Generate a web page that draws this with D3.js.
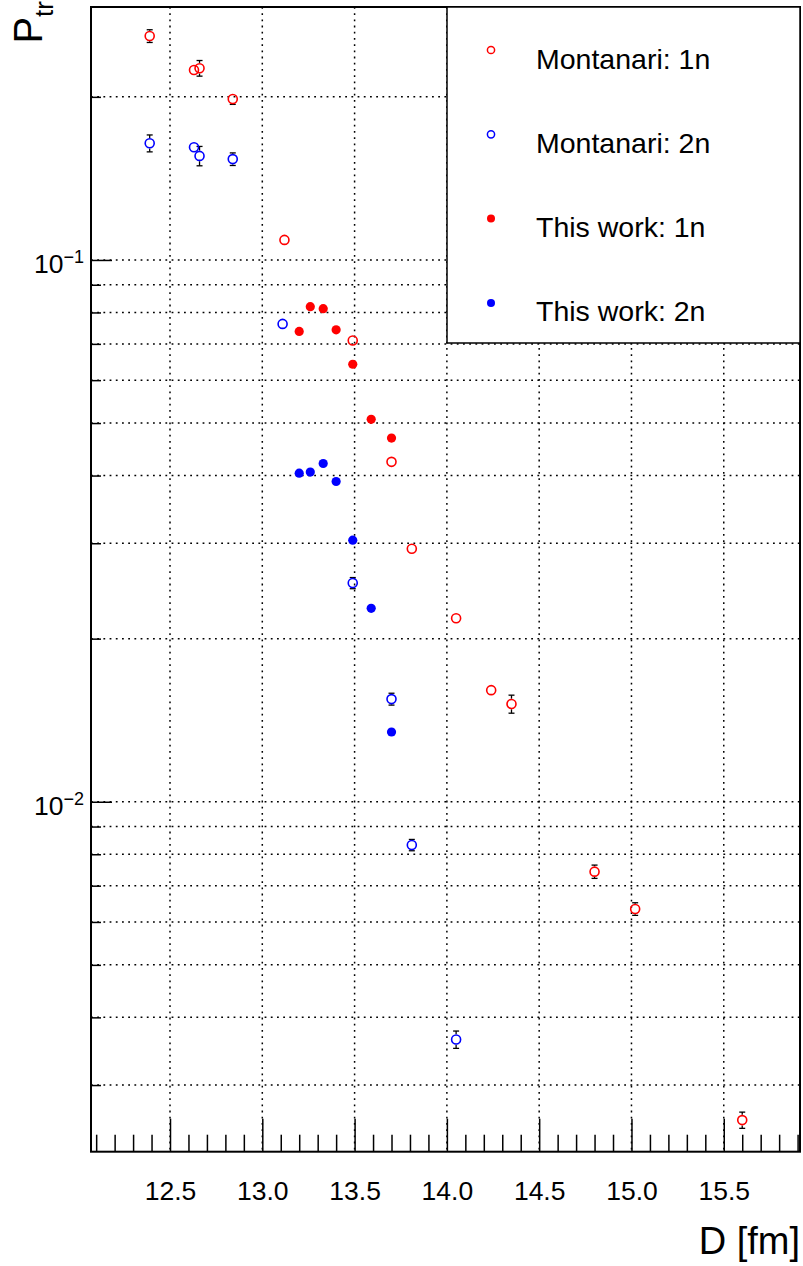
<!DOCTYPE html>
<html>
<head>
<meta charset="utf-8">
<script src="https://cdn.jsdelivr.net/npm/d3@7"></script>
<style>
  html, body { margin: 0; padding: 0; background: #fff; }
  svg { display: block; font-family: "Liberation Sans", Arial, Helvetica, sans-serif; }
</style>
</head>
<body>
<svg id="chart" width="803" height="1266"></svg>
<script>
// Transfer probability vs. distance of closest approach D

// Montanari: 1n
const montanari1nD   = [12.39, 12.63, 12.66, 12.84, 13.12, 13.49, 13.70, 13.81, 14.05, 14.24, 14.35, 14.80, 15.02, 15.60];
const montanari1nP   = [0.259, 0.2242, 0.2259, 0.1982, 0.1089, 0.0710, 0.0424, 0.0293, 0.02181, 0.01607, 0.01515, 0.00743, 0.00634, 0.002585];
const montanari1nErr = [0.0070, 0.0020, 0.0075, 0.0045, 0.0015, 0.0010, 0.0006, 0.0004, 0.0003, 0.0003, 0.00058, 0.00021, 0.00017, 0.000089];

// Montanari: 2n
const montanari2nD   = [12.39, 12.63, 12.66, 12.84, 13.11, 13.49, 13.70, 13.81, 14.05];
const montanari2nP   = [0.1642, 0.1614, 0.1556, 0.1535, 0.0762, 0.02533, 0.01547, 0.00832, 0.00364];
const montanari2nErr = [0.0059, 0.0020, 0.0064, 0.0041, 0.0012, 0.0006, 0.00039, 0.0002, 0.000134];

// This work: 1n and 2n
const thisWorkD  = [13.20, 13.26, 13.33, 13.40, 13.49, 13.59, 13.70];
const thisWork1n = [0.0738, 0.0820, 0.0813, 0.0743, 0.0642, 0.0508, 0.0469];
const thisWork2n = [0.0404, 0.0406, 0.0421, 0.0390, 0.0304, 0.02275, 0.01345];

// Axis ticks
const xMajorTicks = [12.5, 13.0, 13.5, 14.0, 14.5, 15.0, 15.5];
const xMinorTicks = [12.1, 12.2, 12.3, 12.4, 12.6, 12.7, 12.8, 12.9, 13.1, 13.2, 13.3, 13.4,
                     13.6, 13.7, 13.8, 13.9, 14.1, 14.2, 14.3, 14.4, 14.6, 14.7, 14.8, 14.9,
                     15.1, 15.2, 15.3, 15.4, 15.6, 15.7, 15.8, 15.9];
const yMajorTicks = [0.01, 0.1];
const yMajorLabels = ["\u22122", "\u22121"];
const yMinorTicks = [0.003, 0.004, 0.005, 0.006, 0.007, 0.008, 0.009,
                     0.02, 0.03, 0.04, 0.05, 0.06, 0.07, 0.08, 0.09, 0.2];

const legendLabels = ["Montanari: 1n", "Montanari: 2n", "This work: 1n", "This work: 2n"];
const legendColors = ["#ff0000", "#0000ff", "#ff0000", "#0000ff"];
const legendOpen   = [true, true, false, false];

const svg = d3.select("#chart");

const frame = { left: 91, right: 800, top: 7, bottom: 1151.7 };

const x = d3.scaleLinear().domain([12.072, 15.913]).range([frame.left, frame.right]);
const y = d3.scaleLog().domain([0.00226, 0.293]).range([frame.bottom, frame.top]);

// Grid (dotted)
const grid = svg.append("g")
  .attr("stroke", "#000")
  .attr("stroke-width", 1.5)
  .attr("stroke-dasharray", "1.8 4.4");
grid.selectAll("line.gx").data(xMajorTicks).join("line")
  .attr("x1", d => x(d)).attr("x2", d => x(d))
  .attr("y1", frame.top).attr("y2", frame.bottom);
grid.selectAll("line.gy").data(yMajorTicks.concat(yMinorTicks)).join("line")
  .attr("x1", frame.left).attr("x2", frame.right)
  .attr("y1", d => y(d)).attr("y2", d => y(d));

// X axis: major and minor ticks pointing into the frame
const xMajorAxis = d3.axisBottom(x).tickValues(xMajorTicks).tickSize(-33)
  .tickPadding(29).tickFormat(d3.format(".1f"));
const xMinorAxis = d3.axisBottom(x).tickValues(xMinorTicks).tickSize(-17).tickFormat("");

const gxMinor = svg.append("g").attr("transform", `translate(0,${frame.bottom})`).call(xMinorAxis);
const gxMajor = svg.append("g").attr("transform", `translate(0,${frame.bottom})`).call(xMajorAxis);
[gxMinor, gxMajor].forEach(g => {
  g.select(".domain").remove();
  g.selectAll(".tick line").attr("stroke", "#000").attr("stroke-width", 1.5);
});
gxMajor.selectAll(".tick text")
  .attr("font-size", 26.5)
  .attr("font-family", "Liberation Sans, Arial, sans-serif")
  .attr("fill", "#000");

// Y axis (log): major and minor ticks pointing into the frame
const yMajorAxis = d3.axisLeft(y).tickValues(yMajorTicks).tickSize(-21).tickFormat("");
const yMinorAxis = d3.axisLeft(y).tickValues(yMinorTicks).tickSize(-10).tickFormat("");
const gyMinor = svg.append("g").attr("transform", `translate(${frame.left},0)`).call(yMinorAxis);
const gyMajor = svg.append("g").attr("transform", `translate(${frame.left},0)`).call(yMajorAxis);
[gyMinor, gyMajor].forEach(g => {
  g.select(".domain").remove();
  g.selectAll(".tick line").attr("stroke", "#000").attr("stroke-width", 1.5);
});

// Y tick labels as powers of ten
const yLab = svg.append("g").selectAll("text").data(yMajorTicks).join("text")
  .attr("x", 84)
  .attr("y", d => y(d) + 13.5)
  .attr("text-anchor", "end")
  .attr("font-size", 26.5)
  .attr("fill", "#000");
yLab.append("tspan").text("10");
yLab.append("tspan")
  .attr("font-size", 18)
  .attr("dy", -10)
  .text((d, i) => yMajorLabels[i]);

// Frame
svg.append("rect")
  .attr("x", frame.left).attr("y", frame.top)
  .attr("width", frame.right - frame.left)
  .attr("height", frame.bottom - frame.top)
  .attr("fill", "none").attr("stroke", "#000").attr("stroke-width", 2);

// Axis titles
svg.append("text")
  .attr("x", 800).attr("y", 1254)
  .attr("text-anchor", "end")
  .attr("font-size", 38)
  .attr("fill", "#000")
  .text("D [fm]");

const yTitle = svg.append("text")
  .attr("transform", "translate(42,1) rotate(-90)")
  .attr("text-anchor", "end")
  .attr("font-size", 40)
  .attr("fill", "#000");
yTitle.append("tspan").text("P");
yTitle.append("tspan").attr("font-size", 26).attr("dy", 11).text("tr");

// Data
const plot = svg.append("g");

function errorBars(D, P, E, r) {
  const rows = D.map((d, i) => ({ d, p: P[i], e: E[i] }));
  const g = plot.append("g").attr("stroke", "#000").attr("stroke-width", 1.3);
  rows.forEach(o => {
    const cx = x(o.d), cy = y(o.p);
    const yt = y(o.p + o.e), yb = y(o.p - o.e);
    if (yt < cy - r) {
      g.append("line").attr("x1", cx).attr("x2", cx).attr("y1", yt).attr("y2", cy - r);
      g.append("line").attr("x1", cx - 3).attr("x2", cx + 3).attr("y1", yt).attr("y2", yt);
    }
    if (yb > cy + r) {
      g.append("line").attr("x1", cx).attr("x2", cx).attr("y1", cy + r).attr("y2", yb);
      g.append("line").attr("x1", cx - 3).attr("x2", cx + 3).attr("y1", yb).attr("y2", yb);
    }
  });
}

function openMarkers(D, P, color) {
  plot.append("g").selectAll("circle").data(D.map((d, i) => [d, P[i]])).join("circle")
    .attr("cx", d => x(d[0])).attr("cy", d => y(d[1]))
    .attr("r", 4.5)
    .attr("fill", "none")
    .attr("stroke", color)
    .attr("stroke-width", 1.6);
}

function filledMarkers(D, P, color) {
  plot.append("g").selectAll("circle").data(D.map((d, i) => [d, P[i]])).join("circle")
    .attr("cx", d => x(d[0])).attr("cy", d => y(d[1]))
    .attr("r", 4.6)
    .attr("fill", color);
}

errorBars(montanari1nD, montanari1nP, montanari1nErr, 5.3);
errorBars(montanari2nD, montanari2nP, montanari2nErr, 5.3);
openMarkers(montanari1nD, montanari1nP, "#ff0000");
openMarkers(montanari2nD, montanari2nP, "#0000ff");
filledMarkers(thisWorkD, thisWork1n, "#ff0000");
filledMarkers(thisWorkD, thisWork2n, "#0000ff");

// Legend
const legend = svg.append("g");
legend.append("rect")
  .attr("x", 447).attr("y", frame.top)
  .attr("width", 800 - 447).attr("height", 343 - frame.top)
  .attr("fill", "#fff").attr("stroke", "#000").attr("stroke-width", 1.5);

const rowY = i => 50 + i * 84.3;
const entries = legend.selectAll("g.entry").data(legendLabels).join("g")
  .attr("transform", (d, i) => `translate(0,${rowY(i)})`);
entries.append("circle")
  .attr("cx", 491).attr("cy", 0)
  .attr("r", (d, i) => legendOpen[i] ? 3.6 : 4.0)
  .attr("fill", (d, i) => legendOpen[i] ? "none" : legendColors[i])
  .attr("stroke", (d, i) => legendOpen[i] ? legendColors[i] : "none")
  .attr("stroke-width", 1.5);
entries.append("text")
  .attr("x", 536).attr("y", 18.5)
  .attr("font-size", 28.5)
  .attr("fill", "#000")
  .text(d => d);
</script>
</body>
</html>
